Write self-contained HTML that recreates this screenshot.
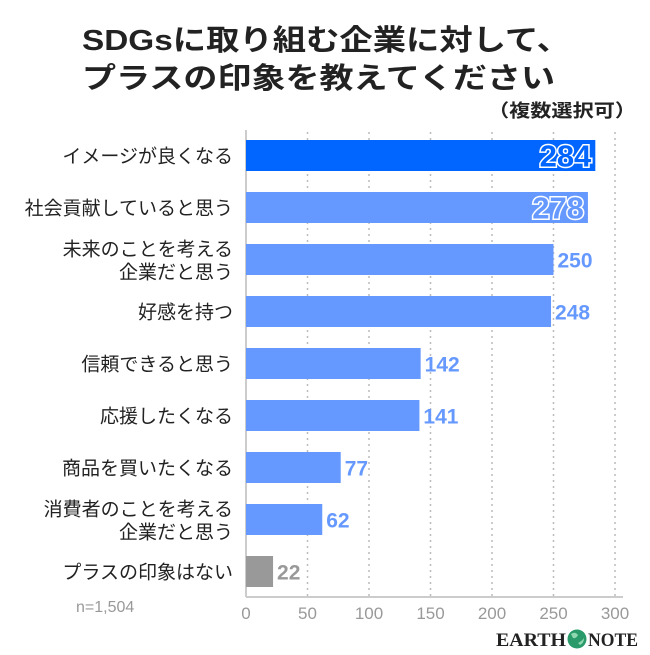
<!DOCTYPE html>
<html><head><meta charset="utf-8"><style>
body{margin:0;background:#fff;font-family:"Liberation Sans","Noto Sans CJK JP",sans-serif}
#c{position:relative;width:650px;height:650px}
</style></head><body>
<div id="c">
<svg width="650" height="650" xmlns="http://www.w3.org/2000/svg" id="svg">
<text x="82" y="50" font-size="29" font-weight="bold" fill="#222" textLength="488" lengthAdjust="spacingAndGlyphs" font-family="Liberation Sans,Noto Sans CJK JP,sans-serif">SDGsに取り組む企業に対して、</text>
<text x="82" y="88" font-size="29" font-weight="bold" fill="#222" textLength="473" lengthAdjust="spacingAndGlyphs" font-family="Liberation Sans,Noto Sans CJK JP,sans-serif">プラスの印象を教えてください</text>
<text x="636" y="117" font-size="18" font-weight="bold" fill="#222" text-anchor="end" textLength="148" lengthAdjust="spacingAndGlyphs" font-family="Liberation Sans,Noto Sans CJK JP,sans-serif">（複数選択可）</text>
<g id="grid"></g><g id="bars"></g>
<text x="76" y="612" font-size="16" fill="#999" font-family="Liberation Sans,sans-serif">n=1,504</text>
<g>
<text x="496" y="646" font-size="19" font-weight="bold" fill="#222" textLength="70" lengthAdjust="spacingAndGlyphs" font-family="Liberation Serif,serif">EARTH</text>
<circle cx="577" cy="639" r="9.5" fill="#2a9a6a"/>
<path d="M571 634 q4 -3 7 1 q-2 4 -5 3 z M578 643 q4 -2 6 -5 q0 5 -4 7 z" fill="#8fd8b0"/>
<text x="588" y="646" font-size="19" font-weight="bold" fill="#222" textLength="50" lengthAdjust="spacingAndGlyphs" font-family="Liberation Serif,serif">NOTE</text>
</g>
</svg>
<script>
const categories=[["イメージが良くなる"],["社会貢献していると思う"],["未来のことを考える","企業だと思う"],["好感を持つ"],["信頼できると思う"],["応援したくなる"],["商品を買いたくなる"],["消費者のことを考える","企業だと思う"],["プラスの印象はない"]];
const values=[284,278,250,248,142,141,77,62,22];
const ticks=[0,50,100,150,200,250,300];
const NS="http://www.w3.org/2000/svg";
const x0=246,x1=615,vmax=300,top0=140,step=52,bh=31;
const xs=v=>x0+(x1-x0)*v/vmax;
const grid=document.getElementById('grid'),bars=document.getElementById('bars');
function mk(t,a,p){const e=document.createElementNS(NS,t);for(const k in a)e.setAttribute(k,a[k]);p.appendChild(e);return e;}
ticks.forEach(t=>{
  if(t>0){const l=mk('line',{x1:xs(t),x2:xs(t),y1:132,y2:596,stroke:'#bbb','stroke-dasharray':'2,4','stroke-width':1.5},grid);
  
  }
  const tx=mk('text',{x:xs(t),y:619,'font-size':17,fill:'#999','text-anchor':'middle','font-family':'Liberation Sans,sans-serif'},grid);
  tx.textContent=t;
  
  
});
const ax=mk('line',{x1:x0,x2:x1+8,y1:597,y2:597,stroke:'#ccc','stroke-width':2},grid);


const ay=mk('line',{x1:x0,x2:x0,y1:130,y2:597,stroke:'#ccc','stroke-width':2},grid);


values.forEach((v,i)=>{
  const y=top0+step*i, last=i===values.length-1;
  const col=i===0?'#0066ff':(last?'#999':'#6699ff');
  const r=mk('rect',{x:x0,y:y,width:xs(v)-x0,height:bh,fill:col},bars);
  
  
  const inside=i<2;
  const t=mk('text',{x:inside?xs(v)-4:xs(v)+4,y:y+bh/2+(inside?11:8),'font-size':inside?31:21,'font-weight':'bold','text-anchor':inside?'end':'start',fill:inside?col:(last?'#999':'#6699ff'),'font-family':'Liberation Sans,sans-serif'},bars);
  if(inside){t.setAttribute('stroke','#fff');t.setAttribute('stroke-width','3');t.setAttribute('paint-order','stroke');t.setAttribute('fill',col);}
  t.textContent=v;
  
  
  const c=categories[i];
  c.forEach((s,j)=>{
    const ty=y+bh/2+7+(c.length===2?(j===0?-11:12):0);
    const lt=mk('text',{x:233,y:ty,'font-size':19,fill:'#222','text-anchor':'end','font-family':'Liberation Sans,Noto Sans CJK JP,sans-serif'},bars);
    lt.textContent=s;
    
    
  });
});
</script>
</div></body></html>
